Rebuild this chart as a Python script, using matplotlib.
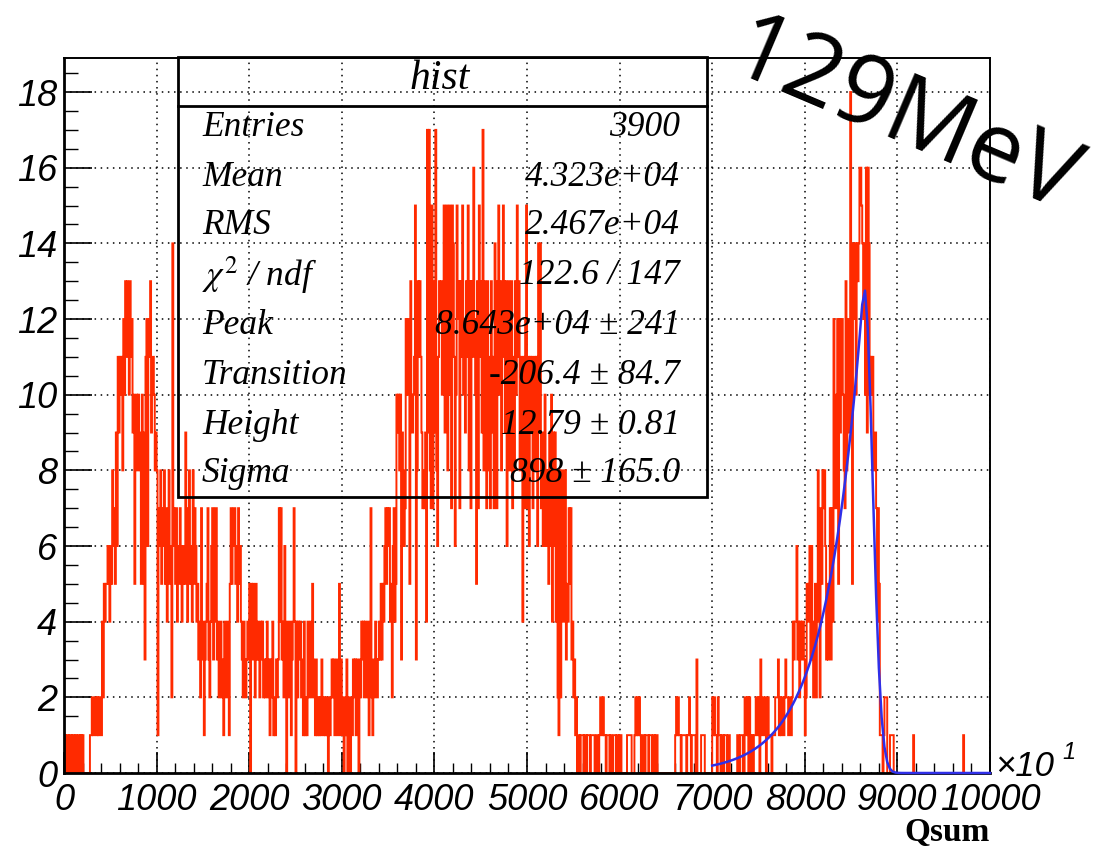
import numpy as np
import matplotlib
matplotlib.use('Agg')
import matplotlib.pyplot as plt
from matplotlib.patches import Rectangle
from matplotlib.lines import Line2D
from matplotlib.ticker import MultipleLocator

# ---------------- data (bin contents, 1000 bins of width 10 on the x10 axis) -------------
block0 = [1,1,0,1,1,0,1,1,0,1,
          1,0,1,1,0,1,1,0,1,0,
          1,0,0,0,0,0,0,0,1,1,
          2,1,1,2,2,1,2,1,2,2,
          1,4,2,5,4,5,5,6,5,4,
          6,5,8,6,7,5,9,6,11,9,
          11,10,11,8,12,10,13,11,13,12,
          10,13,11,12,9,10,5,9,10,8,
          10,9,8,5,10,9,5,3,11,12,
          6,11,12,13,9,10,11,10,8,9]
block1 = [8,1,6,7,8,5,7,6,8,5,
          7,4,6,8,5,6,2,14,7,6,
          5,7,4,6,5,7,6,4,5,6,
          5,9,6,4,7,8,5,6,4,8,
          5,7,6,4,5,3,4,2,7,3,
          4,1,3,4,5,7,3,2,4,6,
          7,3,4,7,7,3,4,2,3,4,
          2,3,1,4,3,2,4,3,1,5,
          7,5,6,7,7,5,6,4,7,5,
          6,4,3,2,4,3,2,3,4,3]
block2 = [5,0,5,3,5,4,2,5,3,4,
          3,2,4,3,4,2,3,2,3,4,
          2,3,1,3,2,4,1,2,1,3,
          2,3,7,4,7,3,4,2,6,3,
          0,4,2,3,4,1,3,4,7,4,
          0,4,2,4,3,4,2,3,1,4,
          1,2,1,4,2,3,4,2,5,3,
          2,1,3,1,2,1,2,1,3,2,
          1,2,1,2,1,0,2,1,2,3,
          2,3,1,2,3,1,2,5,1,3]
block3 = [2,1,0,2,1,3,0,2,1,0,
          2,1,3,2,3,1,3,2,0,3,
          2,4,3,4,2,4,3,2,4,1,
          3,7,2,1,3,2,4,3,2,3,
          4,3,5,3,5,4,6,7,5,7,
          6,7,4,5,2,6,7,4,5,10,
          9,10,8,10,3,9,8,6,7,12,
          10,12,11,5,13,10,9,10,11,15,
          3,8,13,11,13,11,9,7,8,7,
          9,4,17,9,17,8,7,15,7,9]
block4 = [13,17,8,6,11,13,12,13,10,11,
          15,9,11,15,8,11,15,10,7,15,
          14,11,6,10,15,12,13,7,13,11,
          15,10,12,9,13,11,15,8,13,7,
          13,11,16,12,10,5,13,7,15,11,
          13,9,17,8,13,11,7,13,8,11,
          7,13,9,11,7,14,11,7,13,15,
          10,13,8,11,15,13,9,13,6,11,
          13,8,11,13,7,11,8,13,10,15,
          11,13,8,11,9,4,11,7,12,15]
block5 = [7,11,6,11,9,11,7,10,11,8,
          11,6,14,9,14,7,9,6,8,10,
          6,8,7,5,9,6,10,4,9,6,
          9,4,8,2,1,8,2,5,8,4,
          5,8,3,5,4,7,5,7,3,4,
          2,3,1,2,0,1,1,0,1,1,
          1,0,1,1,0,1,1,1,0,1,
          1,1,1,0,0,1,1,0,1,2,
          2,1,2,1,1,0,1,1,1,0,
          1,0,0,1,1,1,0,1,1,0]
block6 = [1,1,0,0,0,0,0,0,1,1,
          1,1,1,0,0,0,1,2,1,2,
          1,2,1,0,0,1,1,0,1,1,
          1,0,1,1,1,0,1,1,0,1,
          1,0,0,0,0,0,0,0,0,0,
          0,0,0,0,0,0,0,0,0,0,
          1,2,1,2,1,1,0,1,1,1,
          1,1,0,1,1,2,1,0,1,1,
          1,1,0,3,0,0,0,0,1,1,
          1,1,0,0,0,0,0,0,0,0]
block7 = [2,1,2,1,1,0,2,1,1,0,
          1,1,0,1,1,1,0,1,1,0,
          0,0,0,0,0,0,0,1,1,0,
          1,1,1,0,0,2,2,1,2,0,
          2,1,0,1,0,1,1,2,2,1,
          2,0,3,1,2,2,1,2,0,1,
          2,1,1,1,0,1,1,1,2,2,
          2,3,1,2,1,2,2,1,2,3,
          2,2,1,2,2,1,2,4,3,4,
          4,6,3,4,2,4,3,4,4,3]
block8 = [1,2,5,4,5,6,3,6,4,2,
          3,5,2,4,8,6,2,7,5,8,
          7,8,6,3,5,3,4,7,3,7,
          4,12,9,7,10,12,5,12,9,11,
          12,10,8,7,13,8,11,12,9,18,
          12,5,14,12,14,10,14,13,14,16,
          16,15,14,12,14,10,16,9,16,14,
          10,11,10,11,8,8,9,7,4,7,
          5,1,1,1,0,1,2,2,2,0,
          0,0,1,1,1,1,0,0,0,0]
block9 = [0]*17 + [1] + [0]*53 + [1] + [0]*28

counts = np.array(block0 + block1 + block2 + block3 + block4 +
                  block5 + block6 + block7 + block8 + block9, dtype=float)
edges = np.linspace(0, 10000, len(counts) + 1)

# fit parameters (from the stats box), Qsum units
fit_peak = 8.643e4
fit_transition = -206.4
fit_height = 12.79
fit_sigma = 898.0
fit_lo, fit_hi = 7000, 10000   # axis units (x10)

x_ticks = [0, 1000, 2000, 3000, 4000, 5000, 6000, 7000, 8000, 9000, 10000]
y_ticks = [0, 2, 4, 6, 8, 10, 12, 14, 16, 18]

stat_labels = ['Entries', 'Mean', 'RMS', r'$\chi^{2}$ / ndf', 'Peak', 'Transition', 'Height', 'Sigma']
stat_values = ['3900', '4.323e+04', '2.467e+04', '122.6 / 147',
               '8.643e+04 ± 241', '-206.4 ± 84.7', '12.79 ± 0.81', '898 ± 165.0']

# ---------------- figure -----------------
plt.rcParams['mathtext.fontset'] = 'stix'
W, H = 1105, 847
fig = plt.figure(figsize=(W / 100, H / 100), dpi=100)
fig.patch.set_facecolor('white')

def fx(px):
    return px / W

def fy(py):
    return 1 - py / H

ax = fig.add_axes([fx(64), fy(773), (990 - 64) / W, (773 - 58) / H])
ax.stairs(counts, edges, color='#ff2a00', linewidth=1.4, baseline=0)

xf = np.linspace(fit_lo, fit_hi, 101)
d = xf * 10 - fit_peak
yf = np.where(d < fit_transition,
              fit_height * np.exp((fit_transition ** 2 / 2 - fit_transition * d) / fit_sigma ** 2),
              fit_height * np.exp(-d ** 2 / (2 * fit_sigma ** 2)))
ax.plot(xf, yf, color='#2f2fe8', linewidth=1.8, clip_on=False, zorder=3)

ax.set_xlim(0, 10000)
ax.set_ylim(0, 18.9)
ax.set_xticks(x_ticks)
ax.set_yticks(y_ticks)
ax.xaxis.set_minor_locator(MultipleLocator(200))
ax.yaxis.set_minor_locator(MultipleLocator(0.5))
ax.tick_params(axis='x', which='major', direction='in', length=21 * 0.72, width=1.2, pad=7)
ax.tick_params(axis='x', which='minor', direction='in', length=10.5 * 0.72, width=1.0)
ax.tick_params(axis='y', which='major', direction='in', length=28 * 0.72, width=1.2, pad=5)
ax.tick_params(axis='y', which='minor', direction='in', length=14 * 0.72, width=1.0)
ax.tick_params(top=False, right=False, which='both')
tick_family = ['Liberation Sans Narrow', 'Liberation Sans']
ax.set_xticklabels([str(v) for v in x_ticks], fontfamily=tick_family,
                   fontstyle='italic', fontsize=26)
ax.set_yticklabels([str(v) for v in y_ticks], fontfamily=tick_family,
                   fontstyle='italic', fontsize=26)

ax.grid(True, which='major', color='black', linestyle=(0, (1, 3)), linewidth=1.1)
ax.set_axisbelow(True)
for s in ['left', 'bottom']:
    ax.spines[s].set_linewidth(2.0)
for s in ['top', 'right']:
    ax.spines[s].set_linewidth(1.4)

# stats box
box = Rectangle((fx(178), fy(497)), (707 - 178) / W, (497 - 57) / H, transform=fig.transFigure,
                fill=False, edgecolor='black', linewidth=2.0, zorder=10)
fig.add_artist(box)
fig.add_artist(Line2D([fx(178), fx(707)], [fy(106), fy(106)], transform=fig.transFigure,
                      color='black', linewidth=2.0))
fig.text(fx(440), fy(79), 'hist', ha='center', va='center', fontsize=30,
         family='Liberation Serif', style='italic')
row_y = [128, 178, 226, 276, 326, 375, 425, 473]
for lab, val, yy in zip(stat_labels, stat_values, row_y):
    fig.text(fx(202), fy(yy), lab, ha='left', va='center', fontsize=25.5,
             family='Liberation Serif', style='italic')
    fig.text(fx(680), fy(yy), val, ha='right', va='center', fontsize=25.5,
             family='Liberation Serif', style='italic')

# axis extras
fig.text(fx(995), fy(766), '×10', ha='left', va='center', fontsize=25,
         family=tick_family, style='italic')
fig.text(fx(1062), fy(752), '1', ha='left', va='center', fontsize=17,
         family=tick_family, style='italic')
fig.text(fx(990), fy(832), 'Qsum', ha='right', va='center', fontsize=24,
         family='Liberation Serif', weight='bold')

# energy label
fig.text(fx(904), fy(119), '129MeV', ha='center', va='center', fontsize=70,
         family='Open Sans', rotation=-23, rotation_mode='anchor', color='black')

fig.savefig('out.png', dpi=100)
